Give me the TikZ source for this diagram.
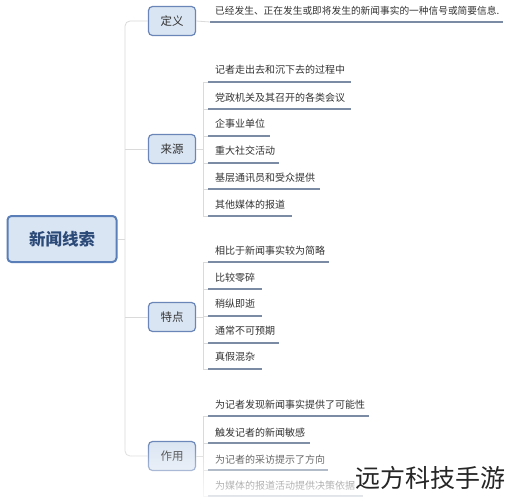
\documentclass[tikz,border=0pt]{standalone}
\usepackage{fontspec}
\setmainfont{Noto Sans CJK SC}
\usetikzlibrary{fadings}
\definecolor{boxfill}{HTML}{DAE5F3}
\definecolor{boxdraw}{HTML}{6A86B8}
\definecolor{maindraw}{HTML}{5A7FB8}
\definecolor{maintext}{HTML}{2C4A78}
\definecolor{conncol}{HTML}{DADADA}
\definecolor{ulcol}{HTML}{7B8BA3}
\definecolor{txtcol}{HTML}{333333}
\tikzset{
  mainbox/.style={draw=maindraw, fill=boxfill, line width=2pt, rounded corners=4pt,
    minimum width=109pt, minimum height=46pt, inner sep=0pt, text=maintext,
    font=\fontsize{16.5}{18}\selectfont\bfseries},
  catbox/.style={draw=boxdraw, fill=boxfill, line width=1.2pt, rounded corners=4pt,
    minimum width=47pt, minimum height=29pt, inner sep=0pt, text=txtcol,
    font=\fontsize{11.5}{13}\selectfont},
  leaftext/.style={anchor=west, inner sep=0pt, text=txtcol, font=\fontsize{10}{12}\selectfont},
  uline/.style={draw=ulcol, line width=1.4pt},
  conn/.style={draw=conncol, line width=0.8pt},
}
\newcommand\leafitem[5]{%
  \node[leaftext] (#1) at (215,#2) {#5};
  \coordinate (#1s) at (208,#3);
  \coordinate (#1e) at (#4,#3);
  \coordinate (#1b) at (203,#3);
  \draw[uline] (#1s) -- (#1e);
  \draw[conn] (#1b) -- (#1s);
}
\begin{document}
\begin{tikzpicture}[x=1pt,y=-1pt]
\useasboundingbox (0,0) rectangle (508,500);
\fill[white] (0,0) rectangle (508,500);

% main node
\node[mainbox] (main) at (62,239) {新闻线索};
\coordinate (trunk) at (125,239);
\draw[conn] (main.east) -- (trunk);

% category boxes
\node[catbox] (def) at (172,21) {定义};
\node[catbox] (src) at (172,149) {来源};
\node[catbox] (feat) at (172,317) {特点};
\node[catbox] (use) at (172,456) {作用};

\coordinate (ttop) at (125,21);
\coordinate (tbot) at (125,456);
\draw[conn, rounded corners=5pt] (def.west) -- (ttop) -- (tbot) -- (use.west);
\draw[conn] (src.west) -- (src.west -| trunk);
\draw[conn] (feat.west) -- (feat.west -| trunk);

% definition
\node[leaftext, font=\fontsize{9.7}{12}\selectfont] (d1) at (215,11) {已经发生、正在发生或即将发生的新闻事实的一种信号或简要信息.};
\coordinate (d1s) at (210,22);
\coordinate (d1e) at (503,22);
\draw[uline] (d1s) -- (d1e);
\draw[conn] (def.east) -- (d1s);

% sources
\leafitem{s1}{70}{82}{351}{记者走出去和沉下去的过程中}
\leafitem{s2}{98}{109}{351}{党政机关及其召开的各类会议}
\leafitem{s3}{124}{136}{270}{企事业单位}
\leafitem{s4}{151}{163}{279}{重大社交活动}
\leafitem{s5}{178}{189}{320}{基层通讯员和受众提供}
\leafitem{s6}{205}{216}{292}{其他媒体的报道}
\draw[conn] (s1b) -- (s6b);
\draw[conn] (src.east) -- (src.east -| s1b);

% features
\leafitem{f1}{251}{262}{329}{相比于新闻事实较为简略}
\leafitem{f2}{278}{289}{262}{比较零碎}
\leafitem{f3}{304}{316}{262}{稍纵即逝}
\leafitem{f4}{331}{343}{279}{通常不可预期}
\leafitem{f5}{357}{369}{262}{真假混杂}
\draw[conn] (f1b) -- (f5b);
\draw[conn] (feat.east) -- (feat.east -| f1b);

% uses
\leafitem{u1}{405}{416}{369}{为记者发现新闻事实提供了可能性}
\leafitem{u2}{433}{443}{310}{触发记者的新闻敏感}
\leafitem{u3}{460}{470}{328}{为记者的采访提示了方向}
\leafitem{u4}{486}{496}{363}{为媒体的报道活动提供决策依据}
\draw[conn] (u1b) -- (u4b);
\draw[conn] (use.east) -- (use.east -| u1b);

% bottom fade
\fill[white, path fading=north, fill opacity=0.85] (0,440) rectangle (508,500);

% watermark
\node[inner sep=0pt, text=black!85, font=\fontsize{25}{28}\selectfont] (wm) at (430,478) {远方科技手游};
\end{tikzpicture}
\end{document}
